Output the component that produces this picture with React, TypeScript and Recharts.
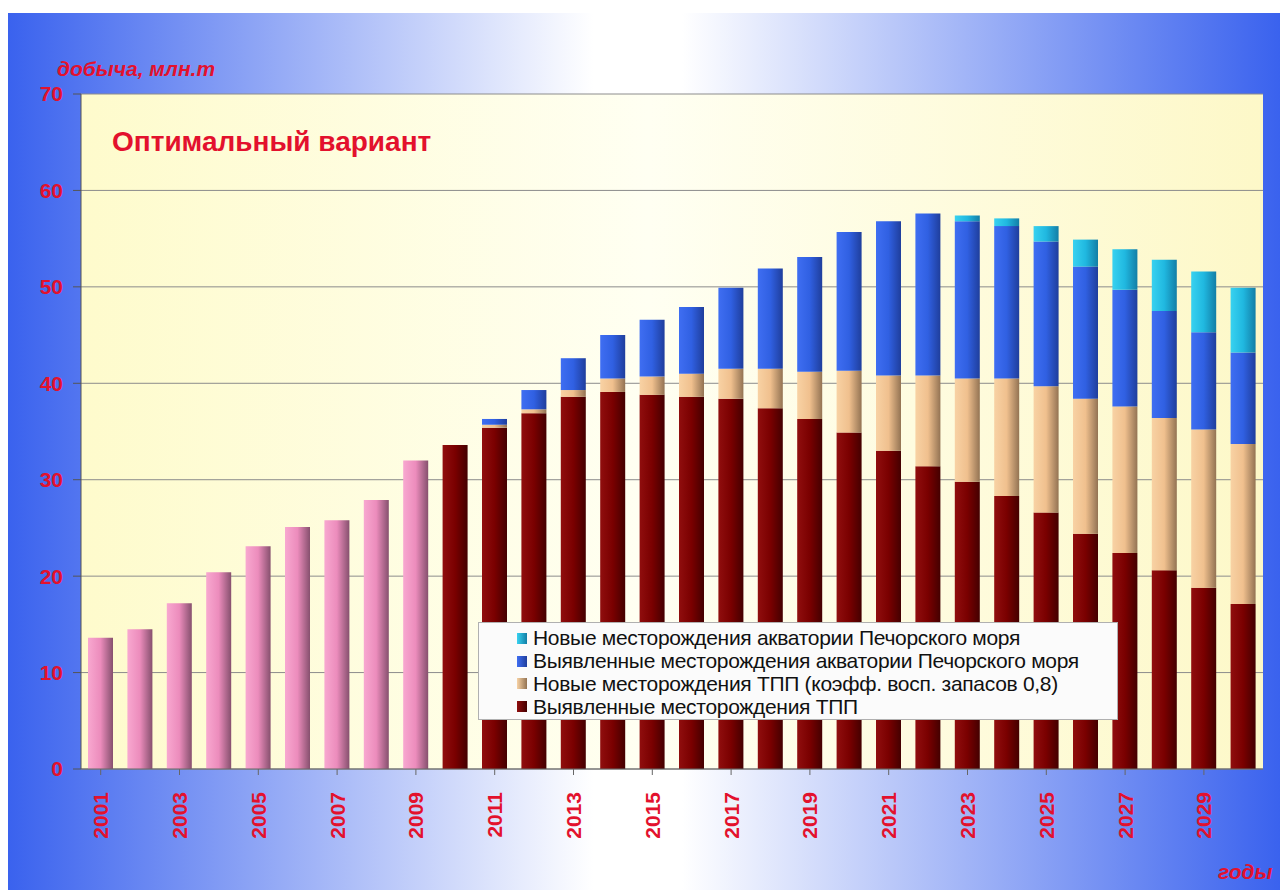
import React from "react";
import { BarChart, Bar, XAxis, YAxis, CartesianGrid, Legend } from "recharts";

const years = [
  "2001", "2002", "2003", "2004", "2005", "2006", "2007", "2008", "2009", "2010",
  "2011", "2012", "2013", "2014", "2015", "2016", "2017", "2018", "2019", "2020",
  "2021", "2022", "2023", "2024", "2025", "2026", "2027", "2028", "2029", "2030",
];

// фактическая добыча (розовые столбцы)
const actual = [13.6, 14.5, 17.2, 20.4, 23.1, 25.1, 25.8, 27.9, 32.0, 0, 0, 0, 0, 0, 0, 0, 0, 0, 0, 0, 0, 0, 0, 0, 0, 0, 0, 0, 0, 0];
const tppKnown = [0, 0, 0, 0, 0, 0, 0, 0, 0, 33.6, 35.4, 36.9, 38.6, 39.1, 38.8, 38.6, 38.4, 37.4, 36.3, 34.9, 33.0, 31.4, 29.8, 28.3, 26.6, 24.4, 22.4, 20.6, 18.8, 17.1];
const tppNew = [0, 0, 0, 0, 0, 0, 0, 0, 0, 0, 0.3, 0.4, 0.7, 1.4, 1.9, 2.4, 3.1, 4.1, 4.9, 6.4, 7.8, 9.4, 10.7, 12.2, 13.1, 14.0, 15.2, 15.8, 16.4, 16.6];
const seaKnown = [0, 0, 0, 0, 0, 0, 0, 0, 0, 0, 0.6, 2.0, 3.3, 4.5, 5.9, 6.9, 8.4, 10.4, 11.9, 14.4, 16.0, 16.8, 16.3, 15.8, 15.0, 13.7, 12.1, 11.1, 10.1, 9.5];
const seaNew = [0, 0, 0, 0, 0, 0, 0, 0, 0, 0, 0, 0, 0, 0, 0, 0, 0, 0, 0, 0, 0, 0, 0.6, 0.8, 1.6, 2.8, 4.2, 5.3, 6.3, 6.7];

const yTicks = [0, 10, 20, 30, 40, 50, 60, 70];

const legendItems = [
  { name: "Новые месторождения акватории Печорского моря", grad: "gCyan" },
  { name: "Выявленные месторождения акватории Печорского моря", grad: "gBlue" },
  { name: "Новые месторождения ТПП (коэфф. восп. запасов 0,8)", grad: "gTan" },
  { name: "Выявленные месторождения ТПП", grad: "gRed" },
];

const data = years.map((y, i) => ({
  year: y,
  actual: actual[i],
  tppKnown: tppKnown[i],
  tppNew: tppNew[i],
  seaKnown: seaKnown[i],
  seaNew: seaNew[i],
}));

const RED = "#e3112d";
const FONT = "'Liberation Sans', Arial, sans-serif";

const grads: Record<string, string[]> = {
  gPink: ["#f8a8d0", "#ec8cbc", "#86506e"],
  gRed: ["#900e0e", "#7a0000", "#440000"],
  gTan: ["#f8d2a4", "#f0c08e", "#937353"],
  gBlue: ["#3f6ef2", "#3060e2", "#1f3e9c"],
  gCyan: ["#38d2f0", "#20b8e0", "#137ea6"],
};

function YearTick(props: any) {
  const { x, y, payload } = props;
  const ty = y + 15;
  return (
    <text
      x={x}
      y={ty}
      transform={`rotate(-90 ${x} ${ty})`}
      textAnchor="end"
      dominantBaseline="central"
      fill={RED}
      fontSize={21}
      fontWeight="bold"
      fontFamily={FONT}
    >
      {payload.value}
    </text>
  );
}

function LegendBox() {
  return (
    <div
      style={{
        width: 640,
        height: 98,
        boxSizing: "border-box",
        background: "#fbfbfb",
        border: "1px solid #b0b0b0",
        padding: "4px 0 0 38px",
        fontFamily: FONT,
        fontSize: 21,
        color: "#111",
      }}
    >
      {legendItems.map((it) => (
        <div key={it.name} style={{ display: "flex", alignItems: "center", height: 22.8 }}>
          <span
            style={{
              display: "inline-block",
              width: 10,
              height: 11,
              marginRight: 6,
              background: `linear-gradient(to right, ${grads[it.grad][0]}, ${grads[it.grad][2]})`,
            }}
          />
          <span style={{ whiteSpace: "nowrap", letterSpacing: -0.3 }}>{it.name}</span>
        </div>
      ))}
    </div>
  );
}

export default function App() {
  return (
    <div
      style={{
        position: "absolute",
        left: 8,
        top: 13,
        width: 1272,
        height: 877,
        overflow: "hidden",
        background: "linear-gradient(to right, #3a62ee 0%, #ffffff 46%, #ffffff 53%, #3a62ee 100%)",
        fontFamily: FONT,
      }}
    >
      <div
        style={{
          position: "absolute",
          left: 49,
          top: 44,
          color: RED,
          fontSize: 21,
          fontWeight: "bold",
          fontStyle: "italic",
        }}
      >
        добыча, млн.т
      </div>
      <div
        style={{
          position: "absolute",
          left: 1210,
          top: 847,
          color: RED,
          fontSize: 21,
          fontWeight: "bold",
          fontStyle: "italic",
        }}
      >
        годы
      </div>
      <BarChart
        width={1272}
        height={877}
        data={data}
        margin={{ top: 81, right: 17, bottom: 31, left: 13 }}
        barSize={25}
      >
        <defs>
          {Object.keys(grads).map((k) => (
            <linearGradient key={k} id={k} x1="0" y1="0" x2="1" y2="0">
              <stop offset="0" stopColor={grads[k][0]} />
              <stop offset="0.5" stopColor={grads[k][1]} />
              <stop offset="1" stopColor={grads[k][2]} />
            </linearGradient>
          ))}
          <linearGradient id="plotBg" x1="0" y1="0" x2="1" y2="0">
            <stop offset="0" stopColor="#fefbcc" />
            <stop offset="0.48" stopColor="#fffff2" />
            <stop offset="1" stopColor="#fdf8c8" />
          </linearGradient>
        </defs>
        <CartesianGrid vertical={false} stroke="#8c8c8c" fill="url(#plotBg)" fillOpacity={1} />
        <XAxis
          dataKey="year"
          interval={1}
          height={90}
          tick={<YearTick />}
          tickSize={6}
          tickMargin={2}
          axisLine={{ stroke: "#666" }}
          tickLine={{ stroke: "#666" }}
        />
        <YAxis
          domain={[0, 70]}
          ticks={yTicks}
          width={60}
          tickSize={8}
          tickMargin={10}
          axisLine={{ stroke: "#555" }}
          tickLine={{ stroke: "#555" }}
          tick={{ fill: RED, fontSize: 21, fontWeight: "bold", fontFamily: FONT }}
        />
        <Legend
          layout="horizontal"
          verticalAlign="middle"
          align="center"
          wrapperStyle={{ left: 470, top: 609, width: 640 }}
          content={() => <LegendBox />}
        />
        <Bar dataKey="actual" stackId="a" fill="url(#gPink)" isAnimationActive={false} />
        <Bar dataKey="tppKnown" stackId="a" fill="url(#gRed)" isAnimationActive={false} />
        <Bar dataKey="tppNew" stackId="a" fill="url(#gTan)" isAnimationActive={false} />
        <Bar dataKey="seaKnown" stackId="a" fill="url(#gBlue)" isAnimationActive={false} />
        <Bar dataKey="seaNew" stackId="a" fill="url(#gCyan)" isAnimationActive={false} />
      </BarChart>
      <div
        style={{
          position: "absolute",
          left: 104,
          top: 113,
          color: RED,
          fontSize: 28,
          fontWeight: "bold",
        }}
      >
        Оптимальный вариант
      </div>
    </div>
  );
}
